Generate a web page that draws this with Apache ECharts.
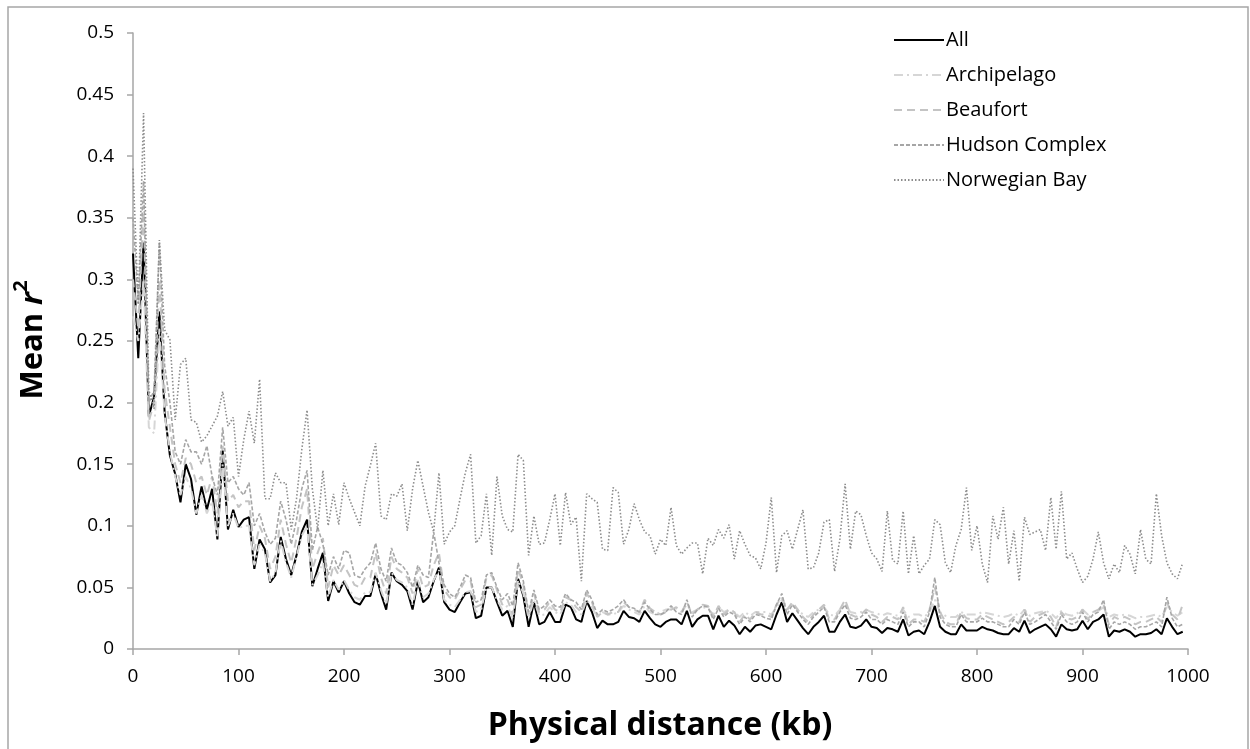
<!DOCTYPE html>
<html>
<head>
<meta charset="utf-8">
<script src="https://cdn.jsdelivr.net/npm/echarts@6/dist/echarts.min.js"></script>
<style>
html,body{margin:0;padding:0;background:#fff;}
#chart{width:1250px;height:749px;}
</style>
</head>
<body>
<div id="chart"></div>
<script>
// Physical distance (kb) of each point
const distanceKb = [
  0,5,10,15,20,25,30,35,40,45,50,55,60,65,70,75,80,85,90,95,
  100,105,110,115,120,125,130,135,140,145,150,155,160,165,170,175,180,185,190,195,
  200,205,210,215,220,225,230,235,240,245,250,255,260,265,270,275,280,285,290,295,
  300,305,310,315,320,325,330,335,340,345,350,355,360,365,370,375,380,385,390,395,
  400,405,410,415,420,425,430,435,440,445,450,455,460,465,470,475,480,485,490,495,
  500,505,510,515,520,525,530,535,540,545,550,555,560,565,570,575,580,585,590,595,
  600,605,610,615,620,625,630,635,640,645,650,655,660,665,670,675,680,685,690,695,
  700,705,710,715,720,725,730,735,740,745,750,755,760,765,770,775,780,785,790,795,
  800,805,810,815,820,825,830,835,840,845,850,855,860,865,870,875,880,885,890,895,
  900,905,910,915,920,925,930,935,940,945,950,955,960,965,970,975,980,985,990,995
];

const seriesNames = ['All', 'Archipelago', 'Beaufort', 'Hudson Complex', 'Norwegian Bay'];

const allValues = [
  0.321,0.236,0.330,0.189,0.205,0.274,0.192,0.157,0.142,0.119,0.150,0.138,0.109,0.132,0.113,0.130,0.089,0.161,0.097,0.113,
  0.099,0.105,0.107,0.065,0.089,0.081,0.054,0.060,0.091,0.073,0.060,0.076,0.095,0.105,0.051,0.065,0.078,0.039,0.055,0.046,
  0.055,0.045,0.038,0.036,0.043,0.043,0.061,0.045,0.032,0.062,0.055,0.052,0.047,0.032,0.055,0.038,0.042,0.055,0.066,0.038,
  0.032,0.030,0.038,0.045,0.046,0.025,0.027,0.050,0.050,0.038,0.027,0.031,0.018,0.057,0.043,0.018,0.038,0.020,0.022,0.030,
  0.022,0.022,0.036,0.034,0.024,0.022,0.039,0.030,0.017,0.023,0.020,0.020,0.022,0.031,0.026,0.025,0.022,0.031,0.025,0.020,
  0.018,0.022,0.024,0.024,0.020,0.031,0.018,0.024,0.027,0.027,0.016,0.027,0.018,0.023,0.019,0.012,0.018,0.014,0.019,0.020,
  0.018,0.016,0.028,0.038,0.022,0.029,0.023,0.017,0.012,0.018,0.022,0.027,0.014,0.014,0.022,0.028,0.018,0.017,0.019,0.024,
  0.018,0.017,0.013,0.017,0.016,0.014,0.024,0.011,0.014,0.015,0.012,0.022,0.035,0.018,0.014,0.012,0.012,0.020,0.015,0.015,
  0.015,0.018,0.016,0.015,0.013,0.012,0.012,0.017,0.014,0.023,0.013,0.016,0.018,0.020,0.016,0.010,0.020,0.016,0.015,0.016,
  0.023,0.016,0.022,0.024,0.028,0.010,0.015,0.014,0.016,0.014,0.010,0.012,0.012,0.013,0.016,0.012,0.025,0.018,0.012,0.014
];

const archipelagoValues = [
  0.270,0.250,0.300,0.180,0.175,0.260,0.190,0.160,0.140,0.125,0.140,0.130,0.110,0.125,0.110,0.120,0.090,0.150,0.100,0.110,
  0.098,0.100,0.100,0.068,0.085,0.078,0.055,0.062,0.088,0.070,0.058,0.075,0.092,0.100,0.052,0.060,0.070,0.042,0.056,0.048,
  0.056,0.048,0.042,0.040,0.046,0.046,0.062,0.048,0.036,0.062,0.056,0.054,0.050,0.036,0.056,0.042,0.045,0.056,0.064,0.040,
  0.036,0.034,0.040,0.046,0.047,0.030,0.032,0.050,0.050,0.040,0.032,0.035,0.025,0.056,0.045,0.025,0.040,0.027,0.028,0.034,
  0.030,0.028,0.038,0.036,0.030,0.028,0.040,0.034,0.026,0.030,0.028,0.028,0.030,0.035,0.032,0.030,0.028,0.035,0.030,0.028,
  0.030,0.032,0.032,0.033,0.030,0.036,0.030,0.032,0.034,0.033,0.028,0.034,0.030,0.032,0.030,0.026,0.030,0.027,0.030,0.030,
  0.030,0.028,0.034,0.040,0.032,0.036,0.032,0.028,0.026,0.030,0.032,0.034,0.028,0.027,0.032,0.036,0.030,0.029,0.030,0.032,
  0.030,0.029,0.027,0.029,0.028,0.027,0.032,0.026,0.028,0.028,0.026,0.030,0.040,0.030,0.027,0.026,0.026,0.030,0.028,0.028,
  0.028,0.030,0.029,0.028,0.027,0.026,0.027,0.029,0.027,0.032,0.027,0.029,0.030,0.031,0.029,0.025,0.031,0.028,0.027,0.029,
  0.032,0.028,0.030,0.031,0.034,0.026,0.028,0.027,0.028,0.027,0.025,0.026,0.026,0.027,0.028,0.026,0.034,0.030,0.027,0.030
];

const beaufortValues = [
  0.300,0.260,0.360,0.185,0.200,0.300,0.210,0.180,0.150,0.135,0.155,0.150,0.135,0.140,0.125,0.140,0.110,0.165,0.120,0.125,
  0.115,0.120,0.120,0.080,0.100,0.090,0.065,0.075,0.105,0.085,0.070,0.090,0.115,0.130,0.065,0.078,0.090,0.050,0.068,0.060,
  0.068,0.060,0.052,0.050,0.058,0.058,0.078,0.058,0.045,0.075,0.065,0.062,0.058,0.045,0.065,0.050,0.052,0.068,0.078,0.048,
  0.042,0.040,0.048,0.056,0.055,0.034,0.036,0.058,0.060,0.048,0.036,0.040,0.028,0.065,0.052,0.028,0.045,0.030,0.032,0.038,
  0.032,0.030,0.042,0.040,0.034,0.030,0.045,0.038,0.026,0.030,0.028,0.030,0.030,0.038,0.034,0.032,0.030,0.040,0.033,0.030,
  0.028,0.030,0.032,0.034,0.030,0.038,0.028,0.032,0.036,0.035,0.026,0.035,0.028,0.032,0.030,0.022,0.028,0.024,0.030,0.028,
  0.028,0.026,0.036,0.042,0.032,0.038,0.032,0.026,0.022,0.028,0.032,0.036,0.024,0.024,0.032,0.040,0.028,0.026,0.028,0.032,
  0.028,0.026,0.022,0.026,0.026,0.024,0.034,0.020,0.024,0.024,0.022,0.032,0.050,0.030,0.022,0.020,0.020,0.030,0.025,0.024,
  0.024,0.028,0.026,0.024,0.022,0.020,0.022,0.026,0.022,0.032,0.022,0.026,0.028,0.030,0.026,0.018,0.030,0.025,0.024,0.026,
  0.032,0.024,0.030,0.032,0.036,0.020,0.026,0.024,0.026,0.024,0.020,0.022,0.022,0.024,0.026,0.022,0.038,0.028,0.024,0.036
];

const hudsonValues = [
  0.350,0.280,0.380,0.200,0.210,0.330,0.230,0.200,0.160,0.150,0.170,0.160,0.160,0.150,0.165,0.140,0.125,0.180,0.135,0.140,
  0.130,0.125,0.135,0.100,0.110,0.095,0.085,0.090,0.120,0.105,0.085,0.105,0.130,0.145,0.080,0.099,0.085,0.060,0.075,0.065,
  0.080,0.078,0.060,0.058,0.065,0.070,0.086,0.065,0.055,0.082,0.070,0.068,0.062,0.050,0.068,0.060,0.058,0.095,0.070,0.052,
  0.045,0.042,0.050,0.060,0.058,0.038,0.040,0.060,0.062,0.050,0.040,0.045,0.035,0.070,0.055,0.030,0.048,0.032,0.035,0.040,
  0.035,0.034,0.045,0.040,0.038,0.032,0.048,0.040,0.028,0.032,0.030,0.032,0.035,0.040,0.034,0.033,0.030,0.038,0.032,0.028,
  0.028,0.030,0.035,0.030,0.028,0.040,0.026,0.032,0.035,0.034,0.024,0.033,0.026,0.030,0.028,0.020,0.026,0.022,0.028,0.027,
  0.025,0.024,0.036,0.045,0.028,0.036,0.030,0.024,0.020,0.026,0.030,0.034,0.022,0.022,0.030,0.036,0.025,0.024,0.026,0.030,
  0.024,0.024,0.020,0.024,0.022,0.020,0.030,0.018,0.022,0.022,0.018,0.030,0.058,0.026,0.020,0.018,0.018,0.028,0.022,0.022,
  0.022,0.025,0.022,0.022,0.020,0.018,0.018,0.024,0.020,0.030,0.020,0.022,0.025,0.028,0.022,0.016,0.028,0.022,0.020,0.022,
  0.030,0.022,0.028,0.030,0.040,0.016,0.022,0.020,0.022,0.020,0.016,0.018,0.018,0.020,0.022,0.018,0.042,0.025,0.018,0.020
];

const norwegianBayValues = [
  0.390,0.280,0.435,0.210,0.195,0.332,0.259,0.251,0.186,0.231,0.236,0.186,0.184,0.168,0.173,0.181,0.189,0.209,0.181,0.188,
  0.140,0.170,0.193,0.167,0.219,0.122,0.122,0.143,0.135,0.135,0.097,0.122,0.162,0.194,0.130,0.097,0.145,0.100,0.126,0.101,
  0.135,0.122,0.111,0.100,0.132,0.149,0.167,0.108,0.105,0.126,0.124,0.134,0.096,0.130,0.153,0.132,0.111,0.095,0.143,0.085,
  0.095,0.100,0.122,0.143,0.158,0.086,0.092,0.126,0.076,0.140,0.108,0.097,0.095,0.158,0.153,0.076,0.108,0.085,0.086,0.105,
  0.126,0.084,0.127,0.101,0.107,0.055,0.126,0.122,0.119,0.081,0.080,0.131,0.127,0.085,0.097,0.118,0.105,0.095,0.092,0.077,
  0.089,0.084,0.115,0.084,0.077,0.082,0.086,0.086,0.061,0.090,0.084,0.097,0.090,0.101,0.073,0.096,0.085,0.076,0.074,0.065,
  0.086,0.123,0.062,0.092,0.096,0.081,0.097,0.113,0.065,0.066,0.078,0.103,0.105,0.063,0.089,0.134,0.081,0.112,0.109,0.092,
  0.078,0.073,0.063,0.112,0.072,0.069,0.112,0.061,0.092,0.061,0.068,0.073,0.105,0.101,0.070,0.062,0.084,0.097,0.131,0.080,
  0.100,0.069,0.054,0.108,0.089,0.115,0.069,0.096,0.055,0.107,0.093,0.095,0.097,0.080,0.123,0.081,0.128,0.073,0.078,0.065,
  0.054,0.059,0.073,0.095,0.070,0.057,0.069,0.062,0.084,0.077,0.061,0.097,0.073,0.069,0.126,0.092,0.070,0.061,0.057,0.070
];

const xTicks = [0, 100, 200, 300, 400, 500, 600, 700, 800, 900, 1000];
const yTicks = [0, 0.05, 0.1, 0.15, 0.2, 0.25, 0.3, 0.35, 0.4, 0.45, 0.5];

const FONT = '"Open Sans", "Noto Sans", sans-serif';

function pairs(vals) {
  return distanceKb.map((d, i) => [d, vals[i]]);
}

const styles = [
  { color: '#000000', width: 2, type: 'solid' },
  { color: '#d6d6d6', width: 2, type: [9, 4, 2, 4] },
  { color: '#c4c4c4', width: 2, type: [8, 5] },
  { color: '#a6a6a6', width: 1.6, type: [4, 2] },
  { color: '#8c8c8c', width: 1.6, type: [1.5, 2] }
];
const valueSets = [allValues, archipelagoValues, beaufortValues, hudsonValues, norwegianBayValues];

const chart = echarts.init(document.getElementById('chart'), null, { renderer: 'canvas' });

chart.setOption({
  animation: false,
  backgroundColor: '#ffffff',
  grid: { left: 133, right: 62, top: 33, bottom: 100, containLabel: false },
  xAxis: {
    type: 'value',
    min: xTicks[0],
    max: xTicks[xTicks.length - 1],
    interval: 100,
    axisLine: { show: true, onZero: false, lineStyle: { color: '#a6a6a6', width: 1.5 } },
    axisTick: { show: true, inside: false, length: 6, lineStyle: { color: '#a6a6a6', width: 1.5 } },
    axisLabel: { color: '#000', fontFamily: FONT, fontSize: 19, margin: 18, formatter: v => String(v) },
    splitLine: { show: false }
  },
  yAxis: {
    type: 'value',
    min: yTicks[0],
    max: yTicks[yTicks.length - 1],
    interval: 0.05,
    axisLine: { show: true, lineStyle: { color: '#a6a6a6', width: 1.5 } },
    axisTick: { show: true, inside: false, length: 6, lineStyle: { color: '#a6a6a6', width: 1.5 } },
    axisLabel: {
      color: '#000', fontFamily: FONT, fontSize: 19, margin: 19,
      formatter: v => String(parseFloat(v.toFixed(2)))
    },
    splitLine: { show: false }
  },
  legend: {
    orient: 'vertical',
    left: 893,
    top: 29,
    itemWidth: 50,
    itemHeight: 14,
    itemGap: 13,
    padding: 0,
    itemStyle: { opacity: 0 },
    textStyle: { color: '#000', fontFamily: FONT, fontSize: 20, lineHeight: 22, padding: [0, 0, 0, -3] },
    data: seriesNames
  },
  graphic: [
    {
      type: 'rect',
      shape: { x: 8, y: 7, width: 1240, height: 780 },
      style: { fill: 'none', stroke: '#a6a6a6', lineWidth: 1.5 },
      silent: true
    },
    {
      type: 'text',
      x: 660, y: 726,
      style: {
        text: 'Physical distance (kb)',
        font: 'bold 32px ' + FONT,
        fill: '#000',
        align: 'center',
        verticalAlign: 'middle'
      }
    },
    {
      type: 'text',
      x: 30, y: 340,
      rotation: Math.PI / 2,
      style: {
        text: '{b|Mean }{i|r}{s|2}',
        align: 'center',
        verticalAlign: 'middle',
        rich: {
          b: { font: 'bold 31px ' + FONT, fill: '#000', lineHeight: 38, verticalAlign: 'bottom' },
          i: { font: 'italic bold 31px ' + FONT, fill: '#000', lineHeight: 38, verticalAlign: 'bottom' },
          s: { font: 'bold 20px ' + FONT, fill: '#000', lineHeight: 38, verticalAlign: 'top' }
        }
      }
    }
  ],
  series: seriesNames.map((name, k) => ({
    name: name,
    type: 'line',
    data: pairs(valueSets[k]),
    symbol: 'none',
    showSymbol: false,
    smooth: false,
    lineStyle: { color: styles[k].color, width: styles[k].width, type: styles[k].type },
    itemStyle: { color: styles[k].color },
    z: 2
  }))
});
</script>
</body>
</html>
